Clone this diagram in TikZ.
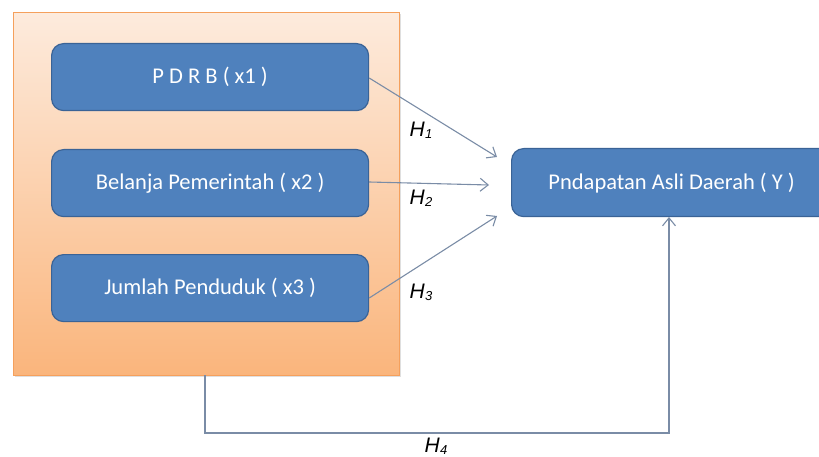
\documentclass[tikz,border=0pt]{standalone}
\usepackage{fontspec}
\setmainfont{Carlito}
\newfontfamily\hfont{Liberation Sans}
\usetikzlibrary{arrows.meta,shadows}
\definecolor{boxblue}{HTML}{4F81BD}
\definecolor{boxedge}{HTML}{3A6396}
\definecolor{orangetop}{HTML}{FDEBDD}
\definecolor{orangebot}{HTML}{FAB57C}
\definecolor{orangeedge}{HTML}{F5A05C}
\definecolor{linkcol}{HTML}{7A8CA6}
\newcommand{\hlab}[1]{{\hfont\itshape H\hspace{0.5pt}\raisebox{-2pt}{\fontsize{13}{13}\selectfont #1}}}
\tikzset{
  varbox/.style={draw=boxedge, line width=1.2pt, fill=boxblue, rounded corners=12pt,
    text=white, font=\fontsize{22.5}{26}\selectfont, inner sep=0pt, anchor=north west},
  link/.style={draw=linkcol, line width=1.1pt, -{Straight Barb[length=8pt,width=13pt]}},
  hl/.style={font=\fontsize{21}{22}\selectfont, inner sep=0pt}
}
\begin{document}
\begin{tikzpicture}[x=1pt,y=-1pt]
\useasboundingbox (0,0) rectangle (819,457);
% orange panel
\node[anchor=north west, minimum width=386pt, minimum height=363pt, inner sep=0pt,
  top color=orangetop, bottom color=orangebot, draw=orangeedge, line width=0.8pt,
  drop shadow={shadow xshift=1.5pt, shadow yshift=-1.5pt, opacity=0.25}] (panel) at (13,12) {};
% variable boxes
\node[varbox, minimum width=317pt, minimum height=67pt] (b1) at (51,43) {P D R B ( x1 )};
\node[varbox, minimum width=317pt, minimum height=67pt] (b2) at (51,149) {Belanja Pemerintah ( x2 )};
\node[varbox, minimum width=317pt, minimum height=67pt] (b3) at (51,254) {Jumlah Penduduk ( x3 )};
\node[varbox, minimum width=320pt, minimum height=68pt] (y) at (511,148) {Pndapatan Asli Daerah ( Y )};
% arrow end coordinates
\coordinate (t1) at (497,157);
\coordinate (t2) at (489,185);
\coordinate (t3) at (497,216);
\coordinate (p4) at (205,375);
\coordinate (y4) at (669,217);
\draw[link] (b1.east |- 0,78) -- (t1);
\draw[link] (b2.east |- 0,182) -- (t2);
\draw[link] (b3.east |- 0,298) -- (t3);
\draw[link] (p4) -- (205,433) -- (669,433) -- (y4);
% labels
\node[hl] (h1) at (421,130) {\hlab{1}};
\node[hl] (h2) at (421,198) {\hlab{2}};
\node[hl] (h3) at (421,292) {\hlab{3}};
\node[hl] (h4) at (436,446) {\hlab{4}};
\end{tikzpicture}
\end{document}
